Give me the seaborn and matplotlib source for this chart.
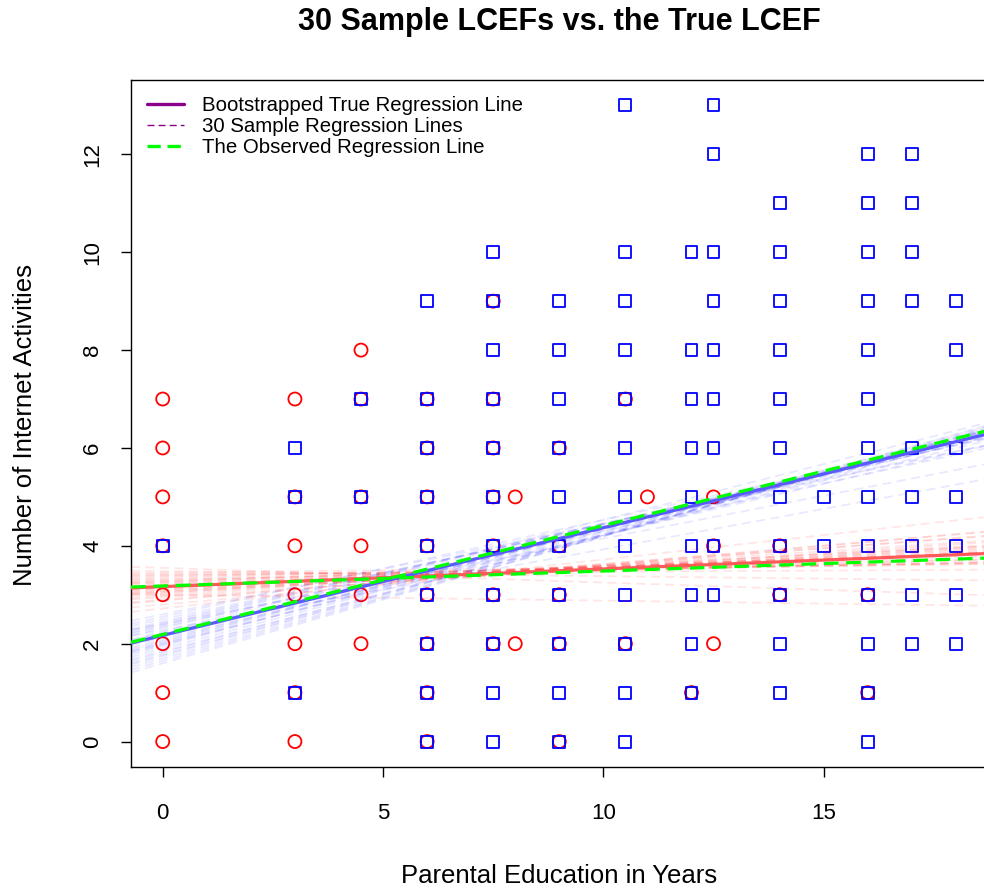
import matplotlib
matplotlib.use("Agg")
import matplotlib.pyplot as plt
import seaborn as sns
import pandas as pd
from matplotlib.lines import Line2D

# ---- data ----
red_x = [0]*8 + [3]*7 + [4.5]*6 + [6]*8 + [7.5]*7 + [8]*2 + [9]*5 + [10.5]*2 + [11] + [12] + [12.5]*3 + [14]*2 + [16]*2
red_y = ([0, 1, 2, 3, 4, 5, 6, 7] + [0, 1, 2, 3, 4, 5, 7] + [2, 3, 4, 5, 7, 8] +
         [0, 1, 2, 3, 4, 5, 6, 7] + [2, 3, 4, 5, 6, 7, 9] + [2, 5] + [0, 2, 3, 4, 6] +
         [2, 7] + [5] + [1] + [2, 4, 5] + [3, 4] + [1, 3])

blue_x = ([0] + [3]*3 + [4.5]*2 + [6]*9 + [7.5]*11 + [9]*10 + [10.5]*12 + [12]*9 +
          [12.5]*9 + [14]*11 + [15]*2 + [16]*13 + [17]*9 + [18]*7)
blue_y = ([4] + [1, 5, 6] + [5, 7] + [0, 1, 2, 3, 4, 5, 6, 7, 9] +
          [0, 1, 2, 3, 4, 5, 6, 7, 8, 9, 10] + [0, 1, 2, 3, 4, 5, 6, 7, 8, 9] +
          [0, 1, 2, 3, 4, 5, 6, 7, 8, 9, 10, 13] + [1, 2, 3, 4, 5, 6, 7, 8, 10] +
          [3, 4, 6, 7, 8, 9, 10, 12, 13] + [1, 2, 3, 4, 5, 6, 7, 8, 9, 10, 11] + [4, 5] +
          [0, 1, 2, 3, 4, 5, 6, 7, 8, 9, 10, 11, 12] + [2, 3, 4, 5, 6, 9, 10, 11, 12] +
          [2, 3, 4, 5, 6, 8, 9])

# regression lines (intercept, slope)
red_true = (3.166, 0.0362)
blue_true = (2.17, 0.220)
red_obs = (3.18, 0.0305)
blue_obs = (2.19, 0.2225)

red_sample_int = [3.42, 2.95, 3.10, 3.55, 3.28, 2.88, 3.20, 3.05, 3.38, 3.15, 2.72, 3.30, 3.48, 3.00, 3.22,
                  3.12, 2.98, 3.35, 3.25, 3.08, 2.90, 3.45, 3.18, 3.02, 3.32, 2.80, 3.26, 3.14, 3.40, 3.06]
red_sample_slope = [0.005, 0.060, 0.040, -0.030, 0.030, 0.075, 0.035, 0.050, 0.015, 0.045, 0.100, 0.020,
                    -0.010, -0.012, 0.030, 0.040, 0.065, 0.020, 0.025, 0.050, 0.070, 0.010, 0.038, 0.058,
                    0.018, 0.080, 0.032, 0.042, 0.012, 0.048]
blue_sample_int = [2.45, 1.95, 2.20, 1.70, 2.35, 2.05, 2.60, 1.85, 2.28, 2.12, 1.60, 2.40, 2.00, 2.25, 1.78,
                   2.50, 2.15, 1.90, 2.32, 2.08, 1.65, 2.55, 2.18, 1.98, 2.38, 1.82, 2.22, 2.02, 2.42, 1.75]
blue_sample_slope = [0.200, 0.240, 0.215, 0.250, 0.195, 0.230, 0.185, 0.235, 0.165, 0.210, 0.260, 0.175,
                     0.222, 0.228, 0.245, 0.190, 0.218, 0.238, 0.212, 0.226, 0.255, 0.198, 0.220, 0.232,
                     0.208, 0.242, 0.216, 0.234, 0.202, 0.248]

x_ticks = [0, 5, 10, 15]
y_ticks = [0, 2, 4, 6, 8, 10, 12]
title = "30 Sample LCEFs vs. the True LCEF"
xlabel = "Parental Education in Years"
ylabel = "Number of Internet Activities"
legend_labels = ["Bootstrapped True Regression Line", "30 Sample Regression Lines",
                 "The Observed Regression Line"]

# ---- drawing ----
sns.set_style("white")
plt.rcParams["font.family"] = ["Liberation Sans", "DejaVu Sans"]
plt.rcParams["text.color"] = "black"
plt.rcParams["axes.labelcolor"] = "black"
plt.rcParams["xtick.color"] = "black"
plt.rcParams["ytick.color"] = "black"

W, H = 984, 890
fig = plt.figure(figsize=(W / 100, H / 100), dpi=100)
ax = fig.add_axes([131 / W, 123 / H, 856.6 / W, 687 / H])

df_red = pd.DataFrame({"x": red_x, "y": red_y})
df_blue = pd.DataFrame({"x": blue_x, "y": blue_y})

sns.scatterplot(data=df_red, x="x", y="y", marker="o", s=88, facecolors="none",
                edgecolor="#ff0000", linewidth=1.3, ax=ax, zorder=2)
sns.scatterplot(data=df_blue, x="x", y="y", marker="s", s=74, facecolors="none",
                edgecolor="#0000ff", linewidth=1.3, ax=ax, zorder=3)

for a, b in zip(red_sample_int, red_sample_slope):
    ax.axline((0, a), slope=b, color="red", alpha=0.10, lw=1.3, dashes=(5, 3), zorder=4)
for a, b in zip(blue_sample_int, blue_sample_slope):
    ax.axline((0, a), slope=b, color="blue", alpha=0.09, lw=1.3, dashes=(5, 3), zorder=4)

ax.axline((0, red_true[0]), slope=red_true[1], color="#ff5a5a", lw=2.3, zorder=5)
ax.axline((0, blue_true[0]), slope=blue_true[1], color="#5a5aff", lw=2.3, zorder=5)
ax.axline((0, red_obs[0]), slope=red_obs[1], color="#00ff00", lw=2.3, dashes=(4.6, 2.4), zorder=6)
ax.axline((0, blue_obs[0]), slope=blue_obs[1], color="#00ff00", lw=2.3, dashes=(4.6, 2.4), zorder=6)

ax.set_xlim(-0.72, 18.72)
ax.set_ylim(-0.52, 13.52)
ax.set_xticks(x_ticks)
ax.set_yticks(y_ticks)
ax.set_xlabel("")
ax.set_ylabel("")
ax.tick_params(direction="out", length=7, width=1.0, labelsize=16, color="black",
               labelcolor="black", bottom=True, left=True)
ax.tick_params(axis="x", pad=19)
ax.tick_params(axis="y", pad=13)
for lab in ax.get_yticklabels():
    lab.set_rotation(90)
    lab.set_va("center")
for sp in ax.spines.values():
    sp.set_visible(True)
    sp.set_color("black")
    sp.set_linewidth(1.0)

handles = [
    Line2D([], [], color="#8b008b", lw=2.4),
    Line2D([], [], color="#8b008b", lw=1.0, dashes=(5, 3)),
    Line2D([], [], color="#00ff00", lw=2.4, dashes=(4.0, 2.0)),
]
ax.legend(handles, legend_labels, loc="upper left", bbox_to_anchor=(0.0, 1.0),
          frameon=False, fontsize=14.7, handlelength=1.8, handletextpad=0.9,
          labelspacing=0.1, borderpad=0.6, borderaxespad=0.2)

fig.text(559 / W, 1 - 22 / H, title, ha="center", va="center", fontsize=22, fontweight="bold")
fig.text(559 / W, 1 - 876 / H, xlabel, ha="center", va="center", fontsize=18.5)
fig.text(25 / W, 1 - 425 / H, ylabel, ha="center", va="center", fontsize=18.5, rotation=90)

fig.savefig("out.png", dpi=100)
